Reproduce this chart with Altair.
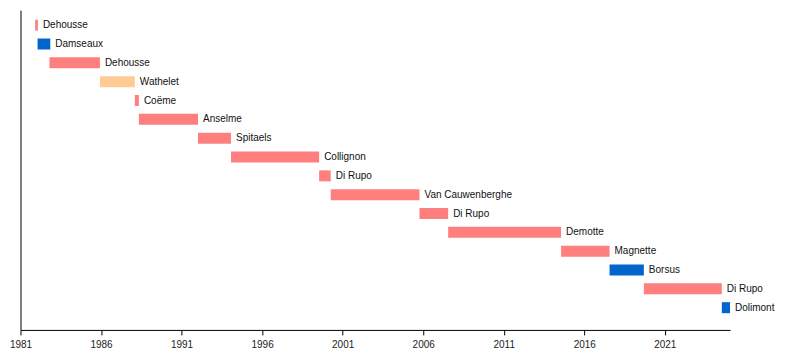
import altair as alt
import pandas as pd

names = ["Dehousse", "Damseaux", "Dehousse", "Wathelet", "Coëme", "Anselme",
         "Spitaels", "Collignon", "Di Rupo", "Van Cauwenberghe", "Di Rupo",
         "Demotte", "Magnette", "Borsus", "Di Rupo", "Dolimont"]
parties = ["PS", "PRL", "PS", "PSC", "PS", "PS", "PS", "PS", "PS", "PS", "PS",
           "PS", "PS", "MR", "PS", "MR"]
starts = [1981.91, 1982.06, 1982.80, 1985.93, 1988.10, 1988.35, 1992.02, 1994.07,
          1999.54, 2000.26, 2005.77, 2007.55, 2014.56, 2017.57, 2019.70, 2024.54]
ends = [1982.08, 1982.85, 1985.93, 1988.10, 1988.35, 1992.02, 1994.07, 1999.54,
        2000.26, 2005.77, 2007.55, 2014.56, 2017.57, 2019.70, 2024.54, 2025.05]
tick_years = [1981, 1986, 1991, 1996, 2001, 2006, 2011, 2016, 2021]
party_domain = ["PS", "PRL", "MR", "PSC"]
party_colors = ["#FF7F7F", "#0066CC", "#0066CC", "#FFCA93"]

df = pd.DataFrame({
    "row": list(range(len(names))),
    "name": names,
    "party": parties,
    "start": starts,
    "end": ends,
})

xscale = alt.Scale(domain=[1981, 2025.05], nice=False, zero=False)
yscale = alt.Scale(domain=[-0.8, 16.18], nice=False, zero=False, reverse=True)

base = alt.Chart(df)

bars = base.mark_rule(strokeWidth=11, strokeCap="butt").encode(
    x=alt.X("start:Q", scale=xscale,
            axis=alt.Axis(values=tick_years, format="d", title=None, grid=False,
                          domainColor="black", tickColor="black", tickSize=5,
                          labelFontSize=10, labelColor="#222222", labelPadding=5,
                          labelFlush=False, labelFont="Liberation Sans")),
    x2="end:Q",
    y=alt.Y("row:Q", scale=yscale,
            axis=alt.Axis(title=None, labels=False, ticks=False, grid=False,
                          domainColor="black")),
    color=alt.Color("party:N", scale=alt.Scale(domain=party_domain, range=party_colors),
                    legend=None),
)

labels = base.mark_text(align="left", baseline="middle", dx=5, fontSize=10,
                        font="Liberation Sans", color="#111111").encode(
    x=alt.X("end:Q", scale=xscale),
    y=alt.Y("row:Q", scale=yscale),
    text="name:N",
)

chart = (bars + labels).properties(
    width=710,
    height=320,
    autosize=alt.AutoSizeParams(type="none"),
    padding={"left": 12.5, "top": 2, "right": 62, "bottom": 30},
).configure_view(stroke=None)

chart.save("out.html", embed_options={"renderer": "svg", "actions": False})
